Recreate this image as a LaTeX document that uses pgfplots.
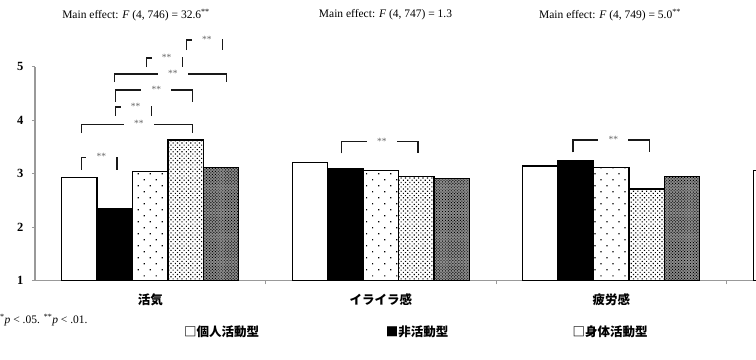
\documentclass[border=0pt]{standalone}
\usepackage{pgfplots}
\pgfplotsset{compat=1.18}
\usetikzlibrary{patterns.meta}
\usepackage{fontspec}
\setmainfont{Liberation Serif}
\newfontfamily\cjk{Noto Sans CJK JP}

\definecolor{axgray}{gray}{0.6}
\definecolor{siggray}{gray}{0.4}

\tikzset{
  brk/.style={draw=black!90, line width=1.35bp},
  siglab/.style={fill=white, inner sep=0pt, minimum width=30bp, minimum height=3bp,
     text=siggray, font=\fontsize{9.5bp}{10bp}\selectfont, xshift=2bp, yshift=0.5bp},
}
% x1 x2 ytop ybot label
\newcommand{\sig}[5]{%
  \draw[brk] (axis cs:#1,#4) -- (axis cs:#1,#3) -- node[siglab]{#5} (axis cs:#2,#3) -- (axis cs:#2,#4);
}

\begin{document}
\begin{tikzpicture}
\begin{axis}[
  at={(35bp,79.7bp)}, anchor=south west,
  scale only axis, width=721bp, height=213.6bp,
  xmin=-0.5, xmax=2.628, ymin=1, ymax=5,
  clip=false,
  axis x line*=bottom, axis y line*=left,
  axis line style={draw=axgray, line width=1.2bp},
  ybar=0pt, bar width=0.1536,
  ytick={1,2,3,4,5},
  tick align=outside,
  major tick length=3bp,
  minor tick length=4bp,
  tick style={draw=axgray, line width=0.8bp},
  xtick={0,1,2},
  xticklabels={活気,イライラ感,疲労感},
  x tick label style={font=\cjk\bfseries\fontsize{12.5bp}{14bp}\selectfont, yshift=-7bp},
  major x tick style={draw=none},
  minor xtick={0.5,1.5,2.5},
  y tick label style={font=\bfseries\fontsize{12.5bp}{14bp}\selectfont, xshift=-5bp},
  /pgf/number format/assume math mode=true,
]
\addplot[draw=black, line width=1.3bp, fill=white] coordinates {(0,2.92) (1,3.20) (2,3.14) (3,3.05)};
\addplot[draw=black, line width=1.3bp, fill=black] coordinates {(0,2.34) (1,3.09) (2,3.25)};
\addplot[draw=black, line width=1.3bp, fill=white, postaction={pattern={Dots[distance=8.5bp, angle=45, radius=0.85bp]}}] coordinates {(0,3.04) (1,3.05) (2,3.11)};
\addplot[draw=black, line width=1.3bp, fill=white, postaction={pattern={Dots[distance=3.1bp, angle=45, radius=0.8bp]}}] coordinates {(0,3.63) (1,2.94) (2,2.71)};
\addplot[draw=black, line width=1.3bp, fill=black!45, postaction={pattern={Dots[distance=2.1bp, angle=45, radius=0.65bp]}}] coordinates {(0,3.11) (1,2.91) (2,2.94)};

\sig{0.1584}{0.3145}{5.500}{5.312}{**}
\sig{-0.0152}{0.1410}{5.163}{4.994}{**}
\sig{-0.1540}{0.3319}{4.863}{4.713}{**}
\sig{-0.1497}{0.1844}{4.564}{4.339}{**}
\sig{-0.1497}{0.0065}{4.245}{4.077}{**}
\sig{-0.2985}{0.1831}{3.921}{3.758}{**}
\sig{-0.2985}{-0.1440}{3.303}{3.066}{**}
\sig{0.8295}{1.1618}{3.596}{3.378}{**}
\sig{1.8343}{2.1670}{3.627}{3.397}{**}
\end{axis}

\begin{scope}[font=\fontsize{11.5bp}{13bp}\selectfont]
\node at (136bp,345bp) {Main effect: \textit{F} (4, 746) = 32.6\textsuperscript{**}};
\node at (385.5bp,345bp) {Main effect: \textit{F} (4, 747) = 1.3};
\node at (610bp,345bp) {Main effect: \textit{F} (4, 749) = 5.0\textsuperscript{**}};
\node[anchor=west, inner sep=0pt] at (0bp,40bp) {\textsuperscript{*}\textit{p} < .05. \textsuperscript{**}\textit{p} < .01.};
\end{scope}
\begin{scope}[font=\cjk\bfseries\fontsize{12.5bp}{14bp}\selectfont]
\node at (221.5bp,28bp) {□個人活動型};
\node at (417bp,28bp) {■非活動型};
\node at (610bp,28bp) {□身体活動型};
\end{scope}

\pgfresetboundingbox
\path (0,0) rectangle (756bp,360bp);
\end{tikzpicture}
\end{document}
